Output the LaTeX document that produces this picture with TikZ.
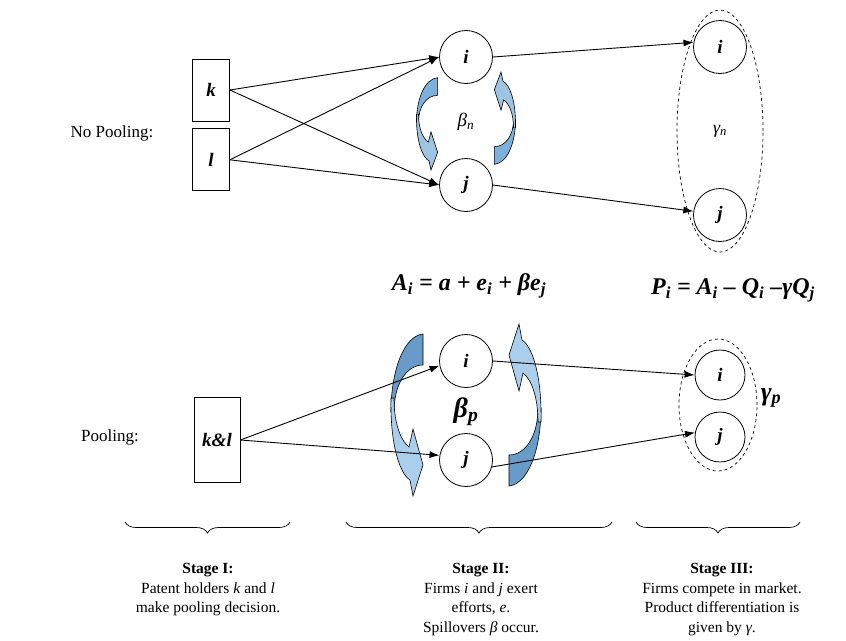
\documentclass[tikz,border=0pt]{standalone}
\usepackage{fontspec}
\setmainfont{Liberation Serif}
\usetikzlibrary{arrows.meta, positioning, shapes, calc, decorations.pathreplacing}

\definecolor{ArrowDark}{RGB}{104,155,200}
\definecolor{ArrowLight}{RGB}{170,206,235}
\definecolor{ArrowMid}{RGB}{125,176,218}

\tikzset{
  pics/bentarrow/.style 2 args={code={
    % back face, tail to bend
    \filldraw[fill=#1, line width=.6pt]
      (-43,-76) .. controls (-62,-74) and (-75,-40) .. (-75,2)
      -- (-72,2) .. controls (-72,-25) and (-60,-45) .. (-43,-45) -- cycle;
    % front face with head
    \filldraw[fill=#2, line width=.6pt]
      (-75,-12) .. controls (-76,35) and (-66,64) .. (-56,70)
      -- (-53,86) -- (-43,55) -- (-53,19) -- (-57,37)
      .. controls (-66,30) and (-72,12) .. (-72,-12) -- cycle;
  }}
}

\begin{document}
\begin{tikzpicture}[
        x=1pt, y=-1pt,
        firm/.style={circle, draw, line width=.8pt, minimum size=53pt, inner sep=0pt, font=\fontsize{19}{19}\selectfont\bfseries\itshape},
        holder/.style={rectangle, draw, line width=.8pt, minimum width=37pt, minimum height=62pt, inner sep=0pt, font=\fontsize{19}{19}\selectfont\bfseries\itshape},
        link/.style={draw, -{Latex[length=10pt,width=7pt]}, line width=.9pt},
        market/.style={ellipse, draw, dashed, line width=.7pt, inner sep=0pt},
        stagebrace/.style={draw, decorate, decoration={brace, mirror, amplitude=11pt}, line width=.7pt},
        caption/.style={align=center, anchor=north, font=\fontsize{15.5}{19.5}\selectfont},
        eqn/.style={font=\fontsize{24}{24}\selectfont\bfseries\itshape},
        rowlabel/.style={font=\fontsize{17}{17}\selectfont}
    ]
        \useasboundingbox (0,0) rectangle (846,640);

        % no pooling
        \node [rowlabel] (nopool) at (112,133) {No Pooling:};
        \node [holder] (k) at (211,90) {k};
        \node [holder, below=7pt of k] (l) {l};
        \node [firm] (i1) at (466,57) {i};
        \node [firm] (j1) at (466,185) {j};
        \node [market, minimum width=86pt, minimum height=242pt, font=\fontsize{18}{18}\selectfont\itshape] (mktn) at (720,131) {γ\textsubscript{n}};
        \node [firm] (i2) at (720,47) {i};
        \node [firm] (j2) at (720,215) {j};
        \node [font=\fontsize{19}{19}\selectfont\itshape] (betan) at (466,122) {β\textsubscript{n}};

        \pic [xscale=.66, yscale=.57] at (466,121) {bentarrow={ArrowMid}{ArrowMid!75!white}};
        \pic [rotate=180, xscale=.66, yscale=.57] at (466,121) {bentarrow={ArrowMid}{ArrowMid!75!white}};

        \path [link] (k.east) -- (i1.west);
        \path [link] (k.east) -- (j1.west);
        \path [link] (l.east) -- (i1.west);
        \path [link] (l.east) -- (j1.west);
        \path [link] (i1.east) -- (i2.170);
        \path [link] (j1.east) -- (j2.172);

        \node [eqn] (effort) at (469,286) {A\textsubscript{i} = a + e\textsubscript{i} + βe\textsubscript{j}};
        \node [eqn] (price) at (733,290) {P\textsubscript{i} = A\textsubscript{i} – Q\textsubscript{i} –γQ\textsubscript{j}};

        % pooling
        \node [rowlabel] (pool) at (110,437) {Pooling:};
        \node [holder, minimum width=46pt, minimum height=85pt] (kl) at (217,440) {k\&l};
        \pic at (466,410) {bentarrow={ArrowDark}{ArrowLight}};
        \pic [rotate=180] at (466,410) {bentarrow={ArrowDark}{ArrowLight}};
        \node [firm] (i3) at (466,361) {i};
        \node [firm] (j3) at (466,460) {j};
        \node [font=\fontsize{28}{28}\selectfont\bfseries\itshape] (betap) at (466,412) {β\textsubscript{p}};
        \node [market, minimum width=78pt, minimum height=132pt] (mktp) at (718,405) {};
        \node [firm, minimum size=50pt] (i4) at (720,375) {i};
        \node [firm, minimum size=50pt] (j4) at (720,437) {j};
        \node [font=\fontsize{26}{26}\selectfont\bfseries\itshape] (gammap) at (771,398) {γ\textsubscript{p}};

        \path [link] (kl.east) -- (i3.190);
        \path [link] (kl.east) -- (j3.170);
        \path [link] (i3.east) -- (i4.west);
        \path [link] (j3.-15) -- (j4.170);

        % stages
        \draw [stagebrace] (125,522) -- (290,522);
        \draw [stagebrace] (346,522) -- (612,522);
        \draw [stagebrace] (636,522) -- (800,522);
        \node [caption] (stage1) at (208,560) {\textbf{Stage I:}\\Patent holders \textit{k} and \textit{l}\\make pooling decision.};
        \node [caption] (stage2) at (481,560) {\textbf{Stage II:}\\Firms \textit{i} and \textit{j} exert\\efforts, \textit{e}.\\Spillovers \textit{β} occur.};
        \node [caption] (stage3) at (722,560) {\textbf{Stage III:}\\Firms compete in market.\\Product differentiation is\\given by \textit{γ}.};
    \end{tikzpicture}
\end{document}
